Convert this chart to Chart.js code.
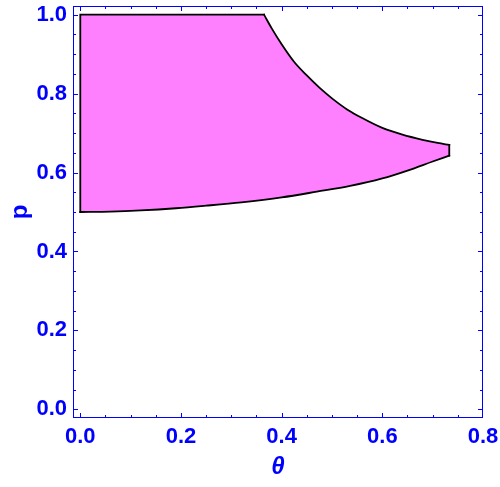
<!DOCTYPE html>
<html>
<head>
<meta charset="utf-8">
<script src="https://cdn.jsdelivr.net/npm/chart.js@4.4.1/dist/chart.umd.min.js"></script>
<style>
  html, body { margin: 0; padding: 0; background: #fff; }
  #wrap { width: 500px; height: 487px; }
</style>
</head>
<body>
<div id="wrap"><canvas id="regionChart" width="500" height="487"></canvas></div>
<script>
// Region boundary
const leftEdgeTheta  = [0, 0, 0.365];
const leftEdgeP      = [0.5, 1.0, 1.0];
const upperTheta = [0.365, 0.380, 0.400, 0.425, 0.450, 0.475, 0.500, 0.530, 0.560, 0.600, 0.640, 0.680, 0.710, 0.733];
const upperP     = [1.000, 0.966, 0.925, 0.880, 0.846, 0.815, 0.788, 0.760, 0.738, 0.713, 0.696, 0.683, 0.675, 0.670];
const rightEdgeTheta = [0.733, 0.733];
const rightEdgeP     = [0.670, 0.643];
const lowerTheta = [0.000, 0.060, 0.120, 0.190, 0.250, 0.320, 0.400, 0.470, 0.536, 0.600, 0.650, 0.700, 0.733];
const lowerP     = [0.500, 0.501, 0.504, 0.5095, 0.516, 0.5245, 0.537, 0.5515, 0.566, 0.585, 0.605, 0.628, 0.643];

const xTickValues = [0, 0.2, 0.4, 0.6, 0.8];
const yTickValues = [0, 0.2, 0.4, 0.6, 0.8, 1.0];

const BLUE = '#0000ff';

const toPts = (xs, ys) => xs.map((x, i) => ({ x: x, y: ys[i] }));

function boundary(data, curved) {
    return {
        data: data,
        showLine: true,
        fill: false,
        borderColor: '#000',
        borderWidth: 1.8,
        borderCapStyle: 'square',
        borderJoinStyle: 'miter',
        pointRadius: 0,
        cubicInterpolationMode: curved ? 'monotone' : 'default',
        tension: 0
    };
}

// walk through a line's points the way Chart.js draws them (bezier if control points exist)
function tracePts(c, pts, reverse) {
    const list = reverse ? pts.slice().reverse() : pts;
    for (let i = 1; i < list.length; i++) {
        const a = list[i - 1], b = list[i];
        if (a.cp1x === undefined) { c.lineTo(b.x, b.y); continue; }
        if (reverse) c.bezierCurveTo(a.cp1x, a.cp1y, b.cp2x, b.cp2y, b.x, b.y);
        else c.bezierCurveTo(a.cp2x, a.cp2y, b.cp1x, b.cp1y, b.x, b.y);
    }
}

// fill the region under the outlines
const regionFill = {
    id: 'regionFill',
    beforeDatasetsDraw(chart) {
        const left = chart.getDatasetMeta(0).data;
        const upper = chart.getDatasetMeta(1).data;
        const right = chart.getDatasetMeta(2).data;
        const lower = chart.getDatasetMeta(3).data;
        const c = chart.ctx;
        c.save();
        c.beginPath();
        c.moveTo(left[0].x, left[0].y);
        left.slice(1).forEach(p => c.lineTo(p.x, p.y));
        c.lineTo(upper[0].x, upper[0].y);
        tracePts(c, upper, false);
        right.forEach(p => c.lineTo(p.x, p.y));
        tracePts(c, lower, true);
        c.closePath();
        c.fillStyle = '#ff80ff';
        c.fill();
        c.restore();
    }
};

// Mathematica-style frame with inward ticks on all four sides
const frameTicks = {
    id: 'frameTicks',
    afterDraw(chart) {
        const { ctx: c, chartArea: a, scales: { x, y } } = chart;
        c.save();
        c.strokeStyle = BLUE;
        c.lineWidth = 1;
        c.strokeRect(a.left + 0.5, a.top + 0.5, a.right - a.left - 1, a.bottom - a.top - 1);
        c.beginPath();
        for (let i = 0; i <= 16; i++) {
            const len = i % 4 === 0 ? 5 : 3;
            const px = Math.round(x.getPixelForValue(i * 0.05)) + 0.5;
            if (px < a.left || px > a.right) continue;
            c.moveTo(px, a.bottom); c.lineTo(px, a.bottom - len);
            c.moveTo(px, a.top); c.lineTo(px, a.top + len);
        }
        for (let i = 0; i <= 20; i++) {
            const len = i % 4 === 0 ? 5 : 3;
            const py = Math.round(y.getPixelForValue(i * 0.05)) + 0.5;
            c.moveTo(a.left, py); c.lineTo(a.left + len, py);
            c.moveTo(a.right, py); c.lineTo(a.right - len, py);
        }
        c.stroke();
        c.restore();
    }
};

const fontFamily = '"Liberation Sans", Arial, sans-serif';
const tickFont = { family: fontFamily, size: 22, weight: 'bold' };

new Chart(document.getElementById('regionChart'), {
    type: 'scatter',
    data: {
        datasets: [
            boundary(toPts(leftEdgeTheta, leftEdgeP), false),
            boundary(toPts(upperTheta, upperP), true),
            boundary(toPts(rightEdgeTheta, rightEdgeP), false),
            boundary(toPts(lowerTheta, lowerP), true)
        ]
    },
    options: {
        responsive: false,
        animation: false,
        events: [],
        layout: { padding: { top: 6, right: 17, left: 0, bottom: 0 } },
        plugins: { legend: { display: false }, tooltip: { enabled: false } },
        scales: {
            x: {
                type: 'linear',
                min: -0.0145,
                max: 0.8,
                grid: { display: false, drawTicks: false },
                border: { display: false },
                afterBuildTicks: s => { s.ticks = xTickValues.map(v => ({ value: v })); },
                afterFit: s => { s.height = 69; s.paddingLeft = 0; s.paddingRight = 0; },
                ticks: {
                    color: BLUE,
                    font: tickFont,
                    padding: 6,
                    maxRotation: 0,
                    callback: v => v.toFixed(1)
                },
                title: {
                    display: true,
                    text: 'θ',
                    color: BLUE,
                    font: { family: fontFamily, size: 24, weight: 'bold', style: 'italic' },
                    padding: { top: 5, bottom: 5 }
                }
            },
            y: {
                type: 'linear',
                min: -0.022,
                max: 1.022,
                grid: { display: false, drawTicks: false },
                border: { display: false },
                afterBuildTicks: s => { s.ticks = yTickValues.map(v => ({ value: v })); },
                afterFit: s => { s.width = 73; s.paddingTop = 0; s.paddingBottom = 0; },
                ticks: {
                    color: BLUE,
                    font: tickFont,
                    padding: 6,
                    callback: v => v.toFixed(1)
                },
                title: {
                    display: true,
                    text: 'p',
                    color: BLUE,
                    font: { family: fontFamily, size: 24, weight: 'bold' },
                    padding: { top: 6, bottom: 6 }
                }
            }
        }
    },
    plugins: [regionFill, frameTicks]
});
</script>
</body>
</html>
